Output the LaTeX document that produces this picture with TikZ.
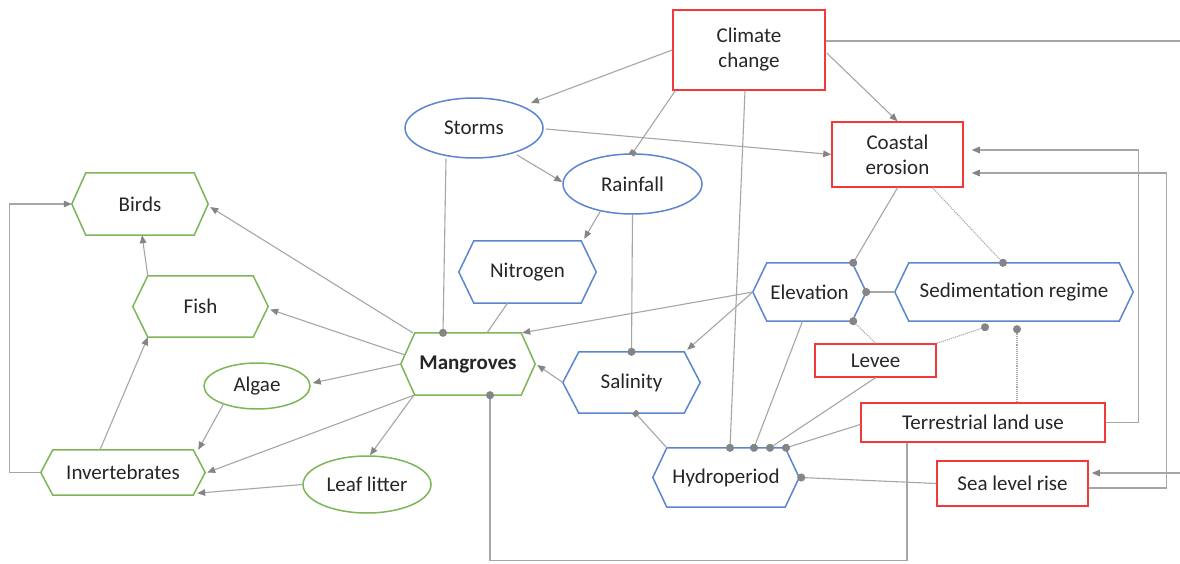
\documentclass[tikz,border=0pt]{standalone}
\usepackage{fontspec}
\setmainfont{Carlito}
\usetikzlibrary{arrows.meta,calc,shapes.geometric}

\definecolor{edgegray}{HTML}{A6A6A6}
\definecolor{tipgray}{HTML}{858585}
\definecolor{redline}{HTML}{F23A3A}
\definecolor{blueline}{HTML}{5B86CF}
\definecolor{greenline}{HTML}{7DB657}
\definecolor{ink}{HTML}{262626}

% hexagonal outline around a (borderless) rectangular node: node, indent, colour
\newcommand\hexframe[3]{%
  \draw[line width=1.5pt,#3] (#1.west) -- ([xshift=#2]#1.north west)
    -- ([xshift=-#2]#1.north east) -- (#1.east)
    -- ([xshift=-#2]#1.south east) -- ([xshift=#2]#1.south west) -- cycle;}

\begin{document}
\begin{tikzpicture}[x=1pt,y=-1pt,
  font=\fontsize{21}{25}\selectfont,
  redbox/.style={draw=redline, line width=1.5pt, inner sep=0pt, text=ink, align=center},
  blueoval/.style={ellipse, draw=blueline, line width=1.5pt, inner sep=0pt, text=ink},
  greenoval/.style={ellipse, draw=greenline, line width=1.5pt, inner sep=0pt, text=ink},
  hexbox/.style={rectangle, draw=none, inner sep=0pt, text=ink},
  conn/.style={draw=edgegray, line width=1.1pt},
  arr/.style={conn, -{Triangle[length=8pt,width=6.5pt,color=tipgray]}},
  dot/.style={conn, -{Circle[length=8pt,color=tipgray]}, shorten >=-4pt},
  sq/.style={conn, -{Square[length=5pt,width=6pt,color=tipgray]}, shorten >=-2pt}]

\fill[white] (0,0) rectangle (1180,564);
\useasboundingbox (0,0) rectangle (1180,564);

% drivers
\node[redbox, minimum width=152pt, minimum height=80pt] (cc) at (749,50) {Climate\\change};
\node[redbox, minimum width=131pt, minimum height=65pt] (ce) at (897.5,154.5) {Coastal\\erosion};
\node[redbox, minimum width=121pt, minimum height=33pt] (levee) at (875.5,360.5) {Levee};
\node[redbox, minimum width=244pt, minimum height=39pt] (tlu) at (983,422.5) {Terrestrial land use};
\node[redbox, minimum width=151pt, minimum height=45pt] (slr) at (1012.5,483.5) {Sea level rise};

% weather and food sources
\node[blueoval, minimum width=138pt, minimum height=60pt] (storms) at (474,128) {Storms};
\node[blueoval, minimum width=139pt, minimum height=60pt] (rain) at (632.5,184) {Rainfall};
\node[greenoval, minimum width=106pt, minimum height=46pt] (algae) at (257,386) {Algae};
\node[greenoval, minimum width=128pt, minimum height=57pt] (leaf) at (367,484.5) {Leaf litter};

% hexagonal state variables
\node[hexbox, minimum width=136pt, minimum height=62pt] (birds) at (140,204) {Birds};
\node[hexbox, minimum width=135pt, minimum height=61pt] (fish) at (200.5,306.5) {Fish};
\node[hexbox, minimum width=164pt, minimum height=45pt] (invert) at (123,472.5) {Invertebrates};
\node[hexbox, minimum width=134pt, minimum height=62pt] (mang) at (468,364) {\bfseries Mangroves};
\node[hexbox, minimum width=137pt, minimum height=62pt] (nitro) at (527.5,272) {Nitrogen};
\node[hexbox, minimum width=137pt, minimum height=61pt] (sal) at (631.5,382.5) {Salinity};
\node[hexbox, minimum width=146pt, minimum height=59pt] (hydro) at (726,477.5) {Hydroperiod};
\node[hexbox, minimum width=113pt, minimum height=58pt] (elev) at (809.5,292) {Elevation};
\node[hexbox, minimum width=238pt, minimum height=58pt] (sed) at (1014,292) {Sedimentation regime};

\hexframe{birds}{14}{greenline}
\hexframe{fish}{15}{greenline}
\hexframe{invert}{12}{greenline}
\hexframe{mang}{14}{greenline}
\hexframe{nitro}{15}{blueline}
\hexframe{sal}{16}{blueline}
\hexframe{hydro}{14}{blueline}
\hexframe{elev}{14}{blueline}
\hexframe{sed}{14}{blueline}

% free ends at the right margin
\coordinate (ccout) at (1180,41);
\coordinate (slrin) at (1180,473);

% climate change
\draw[arr] (cc.west) -- ([shift={(57,-25)}]storms.center);
\draw[sq] ([xshift=3]cc.south west) -- (rain.north);
\draw[dot] ([xshift=-4]cc.south) -- ([xshift=4]hydro.north);
\draw[arr] ([shift={(1,3)}]cc.east) -- (ce.north);
\draw[conn] ([shift={(0,-9)}]cc.east) -- (ccout);

% storms and rainfall
\draw[arr] ([shift={(2,1)}]storms.east) -- (ce.west);
\draw[arr] ([shift={(43,27)}]storms.center) -- ([shift={(0,-2)}]rain.west);
\draw[dot] ([xshift=-28]storms.south) -- ([xshift=-25]mang.north);
\draw[arr] ([shift={(-32,27)}]rain.center) -- ([shift={(-12,-2)}]nitro.north east);
\draw[dot] (rain.south) -- (sal.north);
\draw[conn] ([xshift=-20]nitro.south) -- ([xshift=19]mang.north);

% elevation, erosion and sediments
\draw[arr] (elev.west) -- ([xshift=-13]mang.north east);
\draw[arr] (elev.west) -- ([shift={(-13,-2)}]sal.north east);
\draw[dot] ([xshift=-7]elev.south) -- ([xshift=28]hydro.north);
\draw[dot] (ce.south) -- ([xshift=-13]elev.north east);
\draw[dot, densely dotted] ([xshift=35]ce.south) -- ([xshift=-11]sed.north);
\draw[dot] (sed.west) -- (elev.east);
\draw[dot, densely dotted] (levee.north) -- ([xshift=-13]elev.south east);
\draw[dot, densely dotted] (levee.north east) -- ([shift={(-29,6)}]sed.south);
\draw[dot, densely dotted] ([xshift=34]tlu.north) -- ([shift={(3,8)}]sed.south);

% hydroperiod and the human drivers
\draw[dot] (levee.south) -- ([xshift=44]hydro.north);
\draw[dot] ([shift={(0,2)}]tlu.west) -- ([xshift=60]hydro.north);
\draw[arr] (tlu.east) -- ++(33,0) |- ([shift={(8,-4.5)}]ce.east);
\draw[arr] ([shift={(0,4.5)}]slr.east) -- ++(78,0) |- ([shift={(8,18.5)}]ce.east);
\draw[arr] (slrin) -- ([shift={(3,-10.5)}]slr.east);
\draw[dot] (slr.west) -- ([xshift=2]hydro.east);
\draw[dot] ([xshift=-76]tlu.south) -- ++(0,118) -| ([xshift=22]mang.south);
\draw[arr] (sal.west) -- ([shift={(2,1)}]mang.east);
\draw[sq] ([xshift=14]hydro.north west) -- ([xshift=4]sal.south);

% mangroves and the food web
\draw[arr] ([xshift=12]mang.north west) -- ([shift={(2,3)}]birds.east);
\draw[arr] ([shift={(-63,-9)}]mang.center) -- ([shift={(2,3)}]fish.east);
\draw[arr] (mang.west) -- ([shift={(2,-3)}]algae.east);
\draw[arr] ([xshift=13]mang.south west) -- ([xshift=2]invert.east);
\draw[arr] ([xshift=13]mang.south west) -- ([xshift=3]leaf.north);
\draw[arr] ([shift={(-33,17)}]algae.center) -- ([xshift=-7]invert.north east);
\draw[arr] (leaf.west) -- ([shift={(-8,-2)}]invert.south east);
\draw[arr] ([xshift=-23]invert.north) -- ([xshift=15]fish.south west);
\draw[arr] ([xshift=15]fish.north west) -- ([xshift=2]birds.south);
\draw[arr] (invert.west) -- ++(-31,0) |- (birds.west);
\end{tikzpicture}
\end{document}
